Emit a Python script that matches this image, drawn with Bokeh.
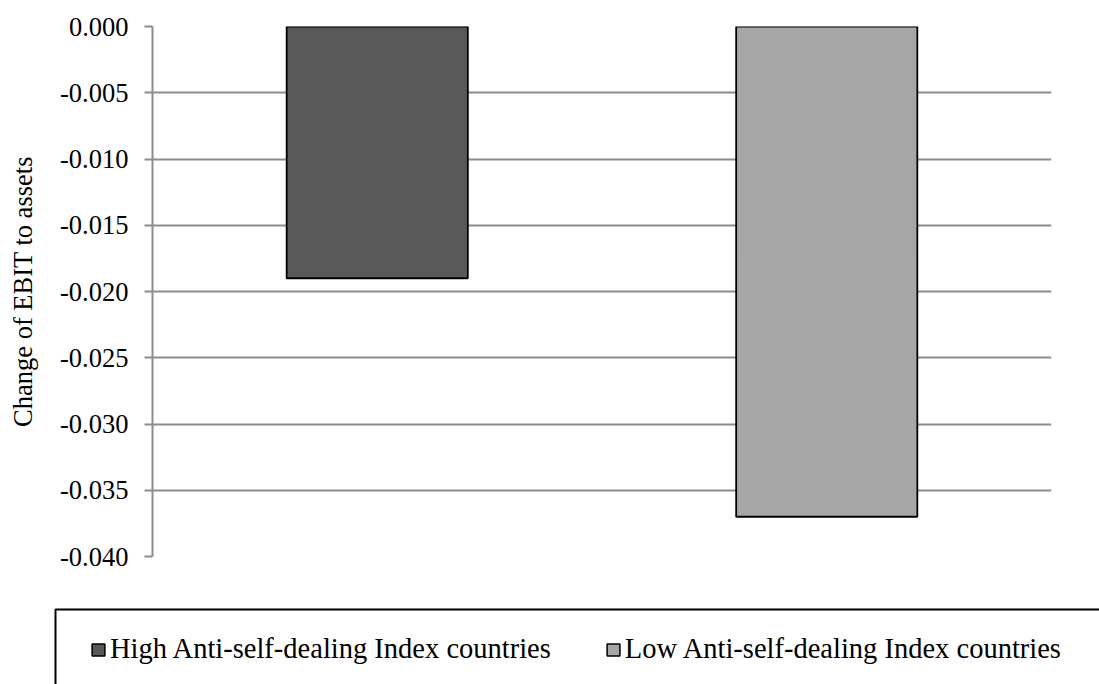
from bokeh.plotting import figure
from bokeh.models import (Range1d, FactorRange, FixedTicker, PrintfTickFormatter,
                          Legend, LegendItem, BoxAnnotation)
from bokeh.layouts import column
from bokeh.embed import file_html
from bokeh.resources import INLINE

categories = ["High Anti-self-dealing Index countries", "Low Anti-self-dealing Index countries"]
values = [-0.019, -0.037]
colors = ["#595959", "#A6A6A6"]
y_ticks = [0.000, -0.005, -0.010, -0.015, -0.020, -0.025, -0.030, -0.035, -0.040]
y_label = "Change of EBIT to assets"

FONT = "Liberation Serif"
FS = "26.5px"
LFS = "28.5px"
GRID = "#8C8C8C"

p = figure(width=1099, height=600, output_backend="svg", toolbar_location=None,
           x_range=FactorRange(*categories, range_padding=0),
           y_range=Range1d(-0.040, 0.0),
           min_border_left=152, min_border_right=48, min_border_top=26, min_border_bottom=44)
p.frame_align = False
p.outline_line_color = None
p.background_fill_color = "white"

for cat, val, col in zip(categories, values, colors):
    p.vbar(x=[cat], top=[0.0], bottom=[val], width=0.403, fill_color=col,
           line_color="black", line_width=1.8)

p.xaxis.visible = False
p.xgrid.visible = False
p.ygrid.grid_line_color = GRID
p.ygrid.grid_line_width = 2

ax = p.yaxis[0]
ax.ticker = FixedTicker(ticks=y_ticks)
ax.formatter = PrintfTickFormatter(format="%.3f")
ax.axis_line_color = GRID
ax.axis_line_width = 2
ax.major_tick_line_color = GRID
ax.major_tick_line_width = 2
ax.major_tick_in = 0
ax.major_tick_out = 8
ax.minor_tick_line_color = None
ax.major_label_text_font = FONT
ax.major_label_text_font_size = FS
ax.major_label_text_color = "black"
ax.major_label_standoff = 16
ax.axis_label = y_label
ax.axis_label_text_font = FONT
ax.axis_label_text_font_size = FS
ax.axis_label_text_font_style = "normal"
ax.axis_label_text_color = "black"
ax.axis_label_standoff = 19

# legend panel below the chart
lp = figure(width=1099, height=84, output_backend="svg", toolbar_location=None,
            x_range=Range1d(0, 1099), y_range=Range1d(84, 0),
            min_border=0, min_border_left=0, min_border_right=0,
            min_border_top=0, min_border_bottom=0)
lp.frame_align = False
lp.axis.visible = False
lp.grid.visible = False
lp.outline_line_color = None

box = BoxAnnotation(left=55, right=1200, top=9, bottom=200,
                    fill_color=None, fill_alpha=0, line_color="black", line_alpha=1,
                    line_width=2)
lp.add_layout(box)

# legend proxies (kept outside the visible range of the legend panel)
proxies = [lp.vbar(x=[5000], top=[5000], bottom=[4900], width=1, fill_color=col,
                   line_color="black", line_width=1.5) for col in colors]

legend = Legend(items=[LegendItem(label=c, renderers=[r]) for c, r in zip(categories, proxies)],
                orientation="horizontal", location=(90, 19),
                padding=0, margin=0, spacing=54, glyph_width=16, glyph_height=15,
                label_standoff=4, border_line_color=None, background_fill_alpha=0,
                label_text_font=FONT, label_text_font_size=LFS, label_text_color="black")
lp.add_layout(legend, "center")

layout = column(p, lp, spacing=0)
open("out.html", "w").write(file_html(layout, INLINE))
